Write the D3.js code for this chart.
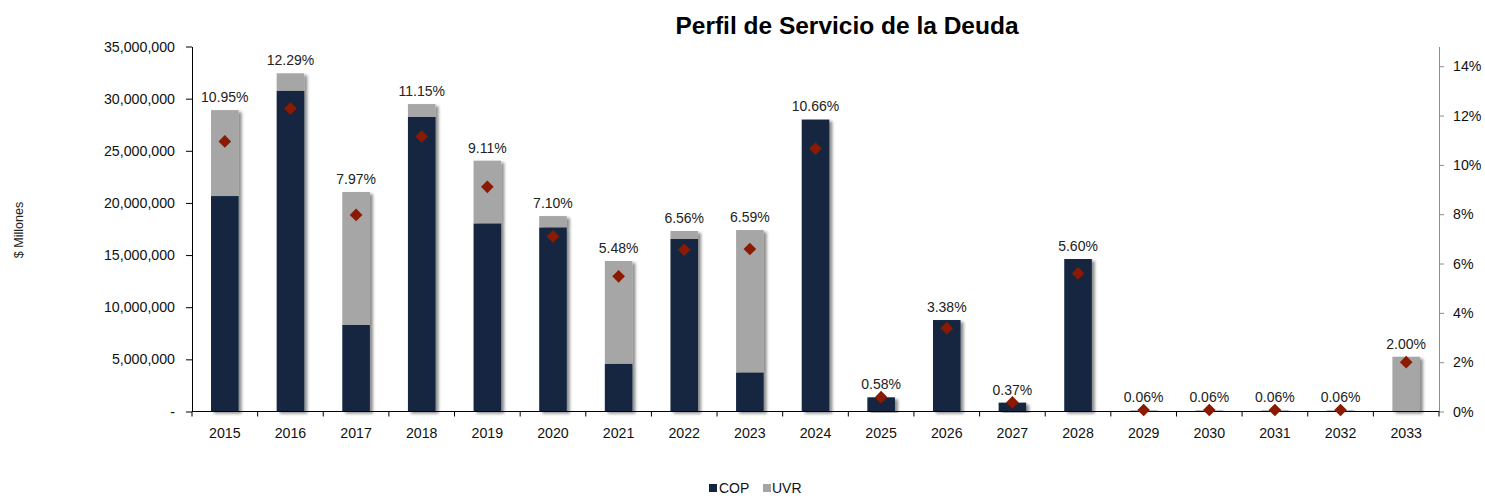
<!DOCTYPE html>
<html lang="es">
<head>
  <meta charset="UTF-8" />
  <title>Perfil de Servicio de la Deuda</title>
  <script src="https://cdn.jsdelivr.net/npm/d3@7/dist/d3.min.js"></script>
  <style>
    html, body { margin: 0; padding: 0; background: #fff; }
    body { font-family: "Liberation Sans", Arial, sans-serif; }
  </style>
</head>
<body>
  <div id="chart"></div>
  <script>
    // datos
    const years = ["2015","2016","2017","2018","2019","2020","2021","2022","2023","2024",
                   "2025","2026","2027","2028","2029","2030","2031","2032","2033"];
    const cop = [20660000, 30760000, 8300000, 28240000, 18040000, 17660000, 4580000, 16540000, 3750000, 28000000,
                 1360000, 8770000, 850000, 14620000, 0, 0, 0, 0, 0];
    const uvr = [8240000, 1670000, 12750000, 1240000, 6010000, 1080000, 9850000, 770000, 13650000, 40000,
                 0, 0, 0, 0, 120000, 120000, 120000, 120000, 5250000];
    const pct = [10.95, 12.29, 7.97, 11.15, 9.11, 7.10, 5.48, 6.56, 6.59, 10.66,
                 0.58, 3.38, 0.37, 5.60, 0.06, 0.06, 0.06, 0.06, 2.00];
    const leftTicks = [0, 5000000, 10000000, 15000000, 20000000, 25000000, 30000000, 35000000];
    const rightTicks = [0, 2, 4, 6, 8, 10, 12, 14];

    main();
    function main() {
      const width = 1485, height = 500;
      const mLeft = 192, mRight = 1439, mTop = 46.5, mBottom = 411.5;
      const copColor = "#12253F", uvrColor = "#A6A6A6", dotColor = "#8B1A03";
      const font = "Liberation Sans, Arial, sans-serif";

      const svg = d3.select("#chart").append("svg")
        .attr("width", width).attr("height", height);

      // sombra de las barras
      const defs = svg.append("defs");
      const f = defs.append("filter").attr("id", "shadow")
        .attr("x", "-30%").attr("y", "-10%").attr("width", "160%").attr("height", "120%");
      f.append("feDropShadow").attr("dx", 3).attr("dy", 2).attr("stdDeviation", 1.8)
        .attr("flood-color", "#000").attr("flood-opacity", 0.45);

      const x = d3.scaleBand().domain(years).range([mLeft, mRight]).padding(0);
      const y = d3.scaleLinear().domain([0, 35000000]).range([mBottom, mTop]);
      const y2 = d3.scaleLinear().domain([0, 14.8]).range([mBottom, mTop]);
      const bw = x.bandwidth() * 0.42;

      // título
      svg.append("text").attr("x", 847).attr("y", 34)
        .attr("text-anchor", "middle").attr("font-size", 24.5).attr("font-weight", "bold")
        .attr("fill", "#000").text("Perfil de Servicio de la Deuda");

      svg.append("text")
        .attr("transform", `translate(23,230) rotate(-90)`)
        .attr("text-anchor", "middle").attr("font-size", 12.5).attr("fill", "#222")
        .text("$ Millones");

      // barras apiladas
      const g = svg.append("g");
      years.forEach((yr, i) => {
        const cx = x(yr) + x.bandwidth() / 2;
        const gb = g.append("g").attr("filter", "url(#shadow)");
        if (cop[i] > 0) {
          gb.append("rect").attr("x", cx - bw / 2).attr("width", bw)
            .attr("y", y(cop[i])).attr("height", mBottom - y(cop[i])).attr("fill", copColor);
        }
        if (uvr[i] > 0) {
          gb.append("rect").attr("x", cx - bw / 2).attr("width", bw)
            .attr("y", y(cop[i] + uvr[i])).attr("height", y(cop[i]) - y(cop[i] + uvr[i]))
            .attr("fill", uvrColor);
        }
      });

      // eje izquierdo
      const yAxis = svg.append("g").attr("transform", `translate(${mLeft},0)`)
        .call(d3.axisLeft(y).tickValues(leftTicks).tickSize(6).tickSizeOuter(0)
          .tickFormat(d => d === 0 ? "-" : d3.format(",")(d)));
      yAxis.select(".domain").attr("stroke", "#000");
      yAxis.selectAll("text").attr("font-size", 14.2).attr("font-family", font)
        .attr("fill", "#111").attr("dx", -8);

      // eje derecho
      const y2Axis = svg.append("g").attr("transform", `translate(${mRight},0)`)
        .call(d3.axisRight(y2).tickValues(rightTicks).tickSize(5).tickSizeOuter(0)
          .tickFormat(d => d + "%"));
      y2Axis.select(".domain").attr("stroke", "#8c8c8c");
      y2Axis.selectAll(".tick line").attr("stroke", "#8c8c8c");
      y2Axis.selectAll("text").attr("font-size", 14.2).attr("font-family", font)
        .attr("fill", "#111").attr("dx", 6);

      // eje x
      const xAxis = svg.append("g").attr("transform", `translate(0,${mBottom})`);
      xAxis.append("line").attr("x1", mLeft).attr("x2", mRight).attr("stroke", "#000");
      xAxis.selectAll("line.tk").data(years.concat(["end"])).enter().append("line")
        .attr("class", "tk")
        .attr("x1", (d, i) => mLeft + i * x.bandwidth()).attr("x2", (d, i) => mLeft + i * x.bandwidth())
        .attr("y1", 0).attr("y2", 5).attr("stroke", "#000");
      xAxis.selectAll("text").data(years).enter().append("text")
        .attr("x", d => x(d) + x.bandwidth() / 2).attr("y", 26)
        .attr("text-anchor", "middle").attr("font-size", 14.2).attr("fill", "#111")
        .text(d => d);

      // rombos (cuadrado girado 45°)
      const sym = d3.symbol().type(d3.symbolSquare).size(80);
      svg.append("g").selectAll("path").data(years).enter().append("path")
        .attr("d", sym)
        .attr("transform", (d, i) => `translate(${x(d) + x.bandwidth() / 2},${y2(pct[i])}) rotate(45)`)
        .attr("fill", dotColor);

      // etiquetas
      svg.append("g").selectAll("text").data(years).enter().append("text")
        .attr("x", d => x(d) + x.bandwidth() / 2)
        .attr("y", (d, i) => y(cop[i] + uvr[i]) - 8)
        .attr("text-anchor", "middle").attr("font-size", 14).attr("fill", "#222")
        .text((d, i) => pct[i].toFixed(2) + "%");

      // leyenda
      const lg = svg.append("g").attr("transform", "translate(709,493)");
      lg.append("rect").attr("x", 0).attr("y", -9).attr("width", 8).attr("height", 8).attr("fill", copColor);
      lg.append("text").attr("x", 10).attr("y", 0).attr("font-size", 14).attr("fill", "#111").text("COP");
      lg.append("rect").attr("x", 54).attr("y", -9).attr("width", 8).attr("height", 8).attr("fill", uvrColor);
      lg.append("text").attr("x", 63).attr("y", 0).attr("font-size", 14).attr("fill", "#111").text("UVR");
    }
  </script>
</body>
</html>
